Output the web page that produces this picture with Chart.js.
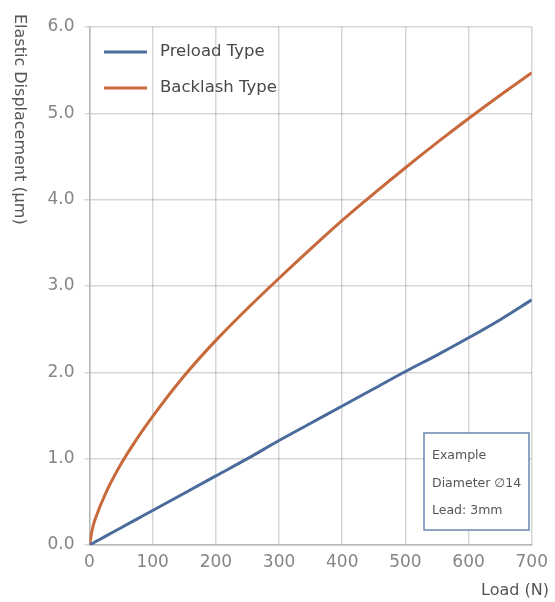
<!DOCTYPE html>
<html>
<head>
<meta charset="utf-8">
<title>Elastic Displacement vs Load</title>
<script src="https://cdn.jsdelivr.net/npm/chart.js@4/dist/chart.umd.min.js"></script>
<style>
  html, body { margin: 0; padding: 0; background: #fff; }
  #wrap { width: 555px; height: 602px; position: relative; }
</style>
</head>
<body>
<div id="wrap"><canvas id="loadChart" width="555" height="602"></canvas></div>
<script>
const loads = [0, 5, 10, 25, 50, 75, 100, 150, 200, 250, 300, 350, 400, 450, 500, 550, 600, 650, 700];
const preloadValues = [0, 0.02, 0.04, 0.10, 0.20, 0.30, 0.40, 0.60, 0.80, 1.00, 1.21, 1.41, 1.61, 1.81, 2.01, 2.20, 2.40, 2.61, 2.84];
const backlashValues = [0, 0.20, 0.32, 0.59, 0.94, 1.23, 1.49, 1.96, 2.37, 2.74, 3.09, 3.43, 3.76, 4.07, 4.37, 4.66, 4.94, 5.21, 5.47];
const seriesNames = ['Preload Type', 'Backlash Type'];
const xTicks = [0, 100, 200, 300, 400, 500, 600, 700];
const yTicks = [0, 1, 2, 3, 4, 5, 6];
const exampleLines = ['Example', 'Diameter \u220514', 'Lead: 3mm'];

const BLUE = '#4a6b9b';
const ORANGE = '#c8693c';
const GRID = 'rgba(0, 0, 0, 0.16)';
const TICK_COLOR = '#858585';
const FONT = '"DejaVu Sans", Verdana, sans-serif';

function byId(id) {
  return document.getElementById(id);
}

function toPoints(values) {
  return loads.map((load, i) => ({ x: load, y: values[i] }));
}

// legend, axis titles and the example box are drawn by hand
const decorations = {
  id: 'decorations',
  afterDraw(chart) {
    const { ctx } = chart;
    ctx.save();

    // legend inside the plot
    const legendItems = [
      { label: seriesNames[0], color: BLUE, y: 52 },
      { label: seriesNames[1], color: ORANGE, y: 88 },
    ];
    legendItems.forEach((item) => {
      ctx.strokeStyle = item.color;
      ctx.lineWidth = 3;
      ctx.beginPath();
      ctx.moveTo(104, item.y);
      ctx.lineTo(147, item.y);
      ctx.stroke();
      ctx.fillStyle = '#484848';
      ctx.font = `16.5px ${FONT}`;
      ctx.textAlign = 'left';
      ctx.textBaseline = 'middle';
      ctx.fillText(item.label, 160, item.y);
    });

    // example box
    ctx.fillStyle = '#fff';
    ctx.fillRect(424, 433, 105, 97);
    ctx.strokeStyle = '#6a85b0';
    ctx.lineWidth = 1.5;
    ctx.strokeRect(424, 433, 105, 97);
    ctx.fillStyle = '#555';
    ctx.font = `12.5px ${FONT}`;
    ctx.textAlign = 'left';
    ctx.textBaseline = 'middle';
    exampleLines.forEach((line, i) => {
      ctx.fillText(line, 432, 456 + i * 27.5);
    });

    // y title, rotated clockwise, reading top to bottom
    ctx.save();
    ctx.translate(19, 14);
    ctx.rotate(Math.PI / 2);
    ctx.fillStyle = '#555';
    ctx.font = `16px ${FONT}`;
    ctx.textAlign = 'left';
    ctx.textBaseline = 'middle';
    ctx.fillText('Elastic Displacement (\u03bcm)', 0, 0);
    ctx.restore();

    // x title at bottom right
    ctx.fillStyle = '#555';
    ctx.font = `16px ${FONT}`;
    ctx.textAlign = 'right';
    ctx.textBaseline = 'middle';
    ctx.fillText('Load (N)', 549, 591);

    ctx.restore();
  },
};

function buildChart() {
  const canvas = byId('loadChart');
  return new Chart(canvas, {
    type: 'line',
    data: {
      datasets: [
        {
          label: seriesNames[0],
          data: toPoints(preloadValues),
          borderColor: BLUE,
          borderWidth: 3,
          pointRadius: 0,
          cubicInterpolationMode: 'monotone',
          fill: false,
        },
        {
          label: seriesNames[1],
          data: toPoints(backlashValues),
          borderColor: ORANGE,
          borderWidth: 3,
          pointRadius: 0,
          cubicInterpolationMode: 'monotone',
          fill: false,
        },
      ],
    },
    options: {
      responsive: false,
      animation: false,
      layout: {
        padding: { top: 27, right: 17, left: 0, bottom: 0 },
      },
      plugins: {
        legend: { display: false },
        tooltip: { enabled: false },
      },
      scales: {
        x: {
          type: 'linear',
          min: 0,
          max: 700,
          afterBuildTicks(scale) {
            scale.ticks = xTicks.map((value) => ({ value }));
          },
          afterFit(scale) {
            scale.height = 57;
          },
          grid: {
            color: GRID,
            lineWidth: 1.5,
            tickLength: 0,
          },
          border: { color: '#b8b8b8', width: 1.5 },
          ticks: {
            color: TICK_COLOR,
            font: { family: FONT, size: 17 },
            padding: 7,
            maxRotation: 0,
          },
        },
        y: {
          min: 0,
          max: 6,
          afterBuildTicks(scale) {
            scale.ticks = yTicks.map((value) => ({ value }));
          },
          afterFit(scale) {
            scale.width = 89.5;
          },
          grid: {
            color: GRID,
            lineWidth: 1.5,
            tickLength: 5,
          },
          border: { color: '#b8b8b8', width: 1.5 },
          ticks: {
            color: TICK_COLOR,
            font: { family: FONT, size: 17 },
            padding: 10,
            callback: (value) => Number(value).toFixed(1),
          },
        },
      },
    },
    plugins: [decorations],
  });
}

document.addEventListener('DOMContentLoaded', () => {
  buildChart();
});
</script>
</body>
</html>
